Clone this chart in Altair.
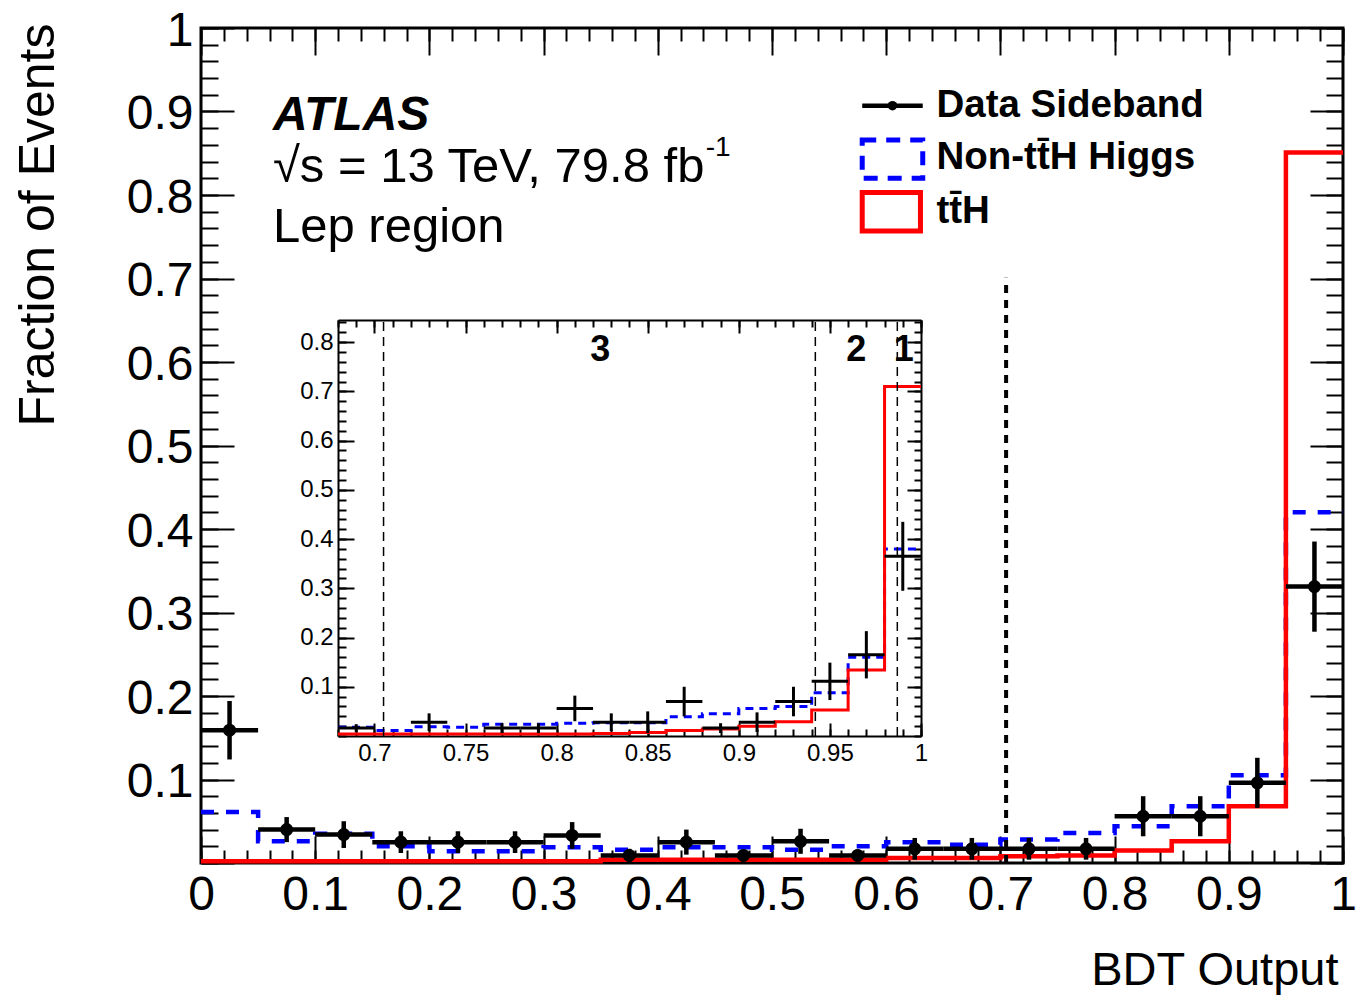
import altair as alt
import pandas as pd

W, H = 1142, 835
FONT = "Liberation Sans"

# ---------------- main histogram: BDT output, 20 bins ----------------
main_edges = [0.0, 0.05, 0.1, 0.15, 0.2, 0.25, 0.3, 0.35, 0.4, 0.45, 0.5,
              0.55, 0.6, 0.65, 0.7, 0.75, 0.8, 0.85, 0.9, 0.95, 1.0]
main_nontth = [0.061, 0.026, 0.035, 0.020, 0.014, 0.014, 0.019, 0.016, 0.019, 0.019,
               0.016, 0.020, 0.025, 0.022, 0.028, 0.036, 0.044, 0.068, 0.105, 0.420]
main_tth = [0.002, 0.002, 0.002, 0.002, 0.002, 0.002, 0.002, 0.004, 0.004, 0.004,
            0.004, 0.004, 0.006, 0.006, 0.008, 0.009, 0.015, 0.026, 0.068, 0.851]
main_data = [0.159, 0.040, 0.034, 0.025, 0.025, 0.025, 0.033, 0.009, 0.025, 0.009,
             0.026, 0.009, 0.017, 0.017, 0.017, 0.017, 0.056, 0.056, 0.096, 0.331]
main_err = [0.035, 0.015, 0.016, 0.013, 0.013, 0.013, 0.016, 0.008, 0.015, 0.007,
            0.015, 0.007, 0.013, 0.013, 0.013, 0.013, 0.024, 0.024, 0.030, 0.054]
main_cut = [0.705]
main_cut_top = [0.701]

# ---------------- inset: zoom on 0.68-1.0, 16 bins ----------------
inset_edges = [0.68, 0.70, 0.72, 0.74, 0.76, 0.78, 0.80, 0.82, 0.84,
               0.86, 0.88, 0.90, 0.92, 0.94, 0.96, 0.98, 1.00]
inset_nontth = [0.018, 0.011, 0.019, 0.018, 0.024, 0.024, 0.026, 0.027,
                0.027, 0.039, 0.045, 0.056, 0.060, 0.088, 0.160, 0.380]
inset_tth = [0.004, 0.004, 0.004, 0.004, 0.004, 0.004, 0.004, 0.005,
             0.007, 0.011, 0.014, 0.020, 0.029, 0.053, 0.134, 0.710]
inset_data_x = [0.69, 0.73, 0.77, 0.79, 0.81, 0.83, 0.85, 0.87, 0.89, 0.91,
                0.93, 0.95, 0.97, 0.99]
inset_data = [0.016, 0.028, 0.016, 0.016, 0.056, 0.028, 0.028, 0.070, 0.016,
              0.028, 0.070, 0.111, 0.165, 0.365]
inset_err = [0.008, 0.018, 0.010, 0.010, 0.026, 0.018, 0.022, 0.030, 0.010,
             0.020, 0.030, 0.038, 0.048, 0.070]
inset_halfbin = 0.01
inset_cuts = [0.705, 0.942, 0.987]
inset_cat_x = [0.824, 0.9645, 0.9905]
inset_cat_labels = ["3", "2", "1"]
inset_cat_y = 0.762

# ---------------- tick values ----------------
main_major = [round(i * 0.1, 1) for i in range(11)]
main_minor = [round(i * 0.02, 2) for i in range(51)]
main_ylabels = [round(i * 0.1, 1) for i in range(1, 11)]
inset_x_major = [0.7, 0.75, 0.8, 0.85, 0.9, 0.95, 1.0]
inset_x_minor = [round(0.68 + 0.01 * i, 2) for i in range(33)]
inset_y_major = [0.1, 0.2, 0.3, 0.4, 0.5, 0.6, 0.7, 0.8]
inset_y_minor = [round(0.02 * i, 2) for i in range(43)]


def xs_main():
    return alt.Scale(domain=[0.0, 1.0], range=[0, W], nice=False, zero=False)


def ys_main():
    return alt.Scale(domain=[0.0, 1.0], range=[H, 0], nice=False, zero=False)


IX0, IX1, IY0, IY1 = 137, 720, 708, 292


def xs_in():
    return alt.Scale(domain=[0.68, 1.0], range=[IX0, IX1], nice=False, zero=False)


def ys_in():
    return alt.Scale(domain=[0.0, 0.845], range=[IY0, IY1], nice=False, zero=False)


def step_df(edges, vals):
    return pd.DataFrame({"x": edges, "y": list(vals) + [vals[-1]]})


def step_line(edges, vals, xs, ys, color, width, dash=None):
    kw = dict(interpolate="step-after", color=color, strokeWidth=width)
    if dash:
        kw["strokeDash"] = dash
    return alt.Chart(step_df(edges, vals)).mark_line(**kw).encode(
        x=alt.X("x:Q", scale=xs, axis=None),
        y=alt.Y("y:Q", scale=ys, axis=None),
    )


def data_layers(lo, hi, c, y, e, xs, ys, width, marker):
    df = pd.DataFrame({
        "lo": lo, "hi": hi, "c": c, "y": y,
        "ylo": [a - b for a, b in zip(y, e)],
        "yhi": [a + b for a, b in zip(y, e)],
    })
    base = alt.Chart(df)
    h = base.mark_rule(color="black", strokeWidth=width).encode(
        x=alt.X("lo:Q", scale=xs, axis=None), x2="hi:Q",
        y=alt.Y("y:Q", scale=ys, axis=None))
    v = base.mark_rule(color="black", strokeWidth=width).encode(
        x=alt.X("c:Q", scale=xs, axis=None),
        y=alt.Y("ylo:Q", scale=ys, axis=None), y2="yhi:Q")
    out = [h, v]
    if marker:
        p = base.mark_point(filled=True, shape="circle", size=170, color="black",
                            opacity=1).encode(
            x=alt.X("c:Q", scale=xs, axis=None),
            y=alt.Y("y:Q", scale=ys, axis=None))
        out.append(p)
    return out


def text_layer(x, y, txt, xs, ys, size, weight="normal", style="normal", align="left"):
    df = pd.DataFrame({"x": [x], "y": [y], "t": [txt]})
    return alt.Chart(df).mark_text(
        font=FONT, fontSize=size, fontWeight=weight, fontStyle=style,
        align=align, baseline="alphabetic", color="black").encode(
        x=alt.X("x:Q", scale=xs, axis=None),
        y=alt.Y("y:Q", scale=ys, axis=None),
        text="t:N")


def tick_axis(orient, offset, values, size, domain=False):
    return alt.Axis(orient=orient, offset=offset, values=values, tickSize=size,
                    ticks=True, labels=False, grid=False, domain=domain,
                    domainColor="black", domainWidth=2, tickColor="black",
                    tickWidth=2, title=None)


def axis_layer(xs, ys, xaxis, yaxis, xv, yv):
    df = pd.DataFrame({"x": [xv], "y": [yv]})
    return alt.Chart(df).mark_point(opacity=0).encode(
        x=alt.X("x:Q", scale=xs, axis=xaxis),
        y=alt.Y("y:Q", scale=ys, axis=yaxis))


layers = []

# ---- main axes ----
main_x_lab = alt.Axis(orient="bottom", values=main_major, format=".1~f",
                      labelFontSize=48, labelPadding=8, labelFlush=False,
                      labelOverlap=False, ticks=False, tickSize=0, domain=False,
                      grid=False, title="BDT Output", titleFontSize=47,
                      titleFontWeight="normal", titleAnchor="end", titleAlign="right",
                      titleBaseline="alphabetic", titleX=W - 5, titleY=121)
main_y_lab = alt.Axis(orient="left", values=main_ylabels, format=".1~f",
                      labelFontSize=48, labelPadding=8, labelFlush=False,
                      labelOverlap=False, labelOffset=3, ticks=False, tickSize=0,
                      domain=False, grid=False, title="Fraction of Events",
                      titleFontSize=50, titleFontWeight="normal", titleAngle=270,
                      titleAlign="right", titleBaseline="alphabetic",
                      titleX=-148, titleY=-5)
layers.append(axis_layer(xs_main(), ys_main(), main_x_lab, main_y_lab, 0.5, 0.5))
layers.append(axis_layer(xs_main(), ys_main(), tick_axis("top", -H, main_major, 27),
                         tick_axis("right", -W, main_major, 33), 0.5, 0.5))
layers.append(axis_layer(xs_main(), ys_main(), tick_axis("top", -H, main_minor, 13),
                         tick_axis("right", -W, main_minor, 17), 0.5, 0.5))
layers.append(axis_layer(xs_main(), ys_main(), tick_axis("bottom", -H, main_major, 27),
                         tick_axis("left", -W, main_major, 33), 0.5, 0.5))
layers.append(axis_layer(xs_main(), ys_main(), tick_axis("bottom", -H, main_minor, 13),
                         tick_axis("left", -W, main_minor, 17), 0.5, 0.5))

# ---- main histograms ----
layers.append(step_line(main_edges, main_nontth, xs_main(), ys_main(), "#0000ff", 4.5, [13, 12]))
layers.append(step_line(main_edges, main_tth, xs_main(), ys_main(), "#ff0000", 4.5))
mlo, mhi = main_edges[:-1], main_edges[1:]
mc = [(a + b) / 2 for a, b in zip(mlo, mhi)]
layers += data_layers(mlo, mhi, mc, main_data, main_err, xs_main(), ys_main(), 4.5, True)

cut_df = pd.DataFrame({"x": main_cut, "y0": [0.0], "y1": main_cut_top})
layers.append(alt.Chart(cut_df).mark_rule(color="black", strokeWidth=4, strokeDash=[8, 7]).encode(
    x=alt.X("x:Q", scale=xs_main(), axis=None),
    y=alt.Y("y0:Q", scale=ys_main(), axis=None), y2="y1:Q"))

# ---- annotations ----
layers.append(text_layer(0.063, 0.878, "ATLAS", xs_main(), ys_main(), 48, "bold", "italic"))
layers.append(text_layer(0.063, 0.816, "\u221as = 13 TeV, 79.8 fb", xs_main(), ys_main(), 49))
layers.append(text_layer(0.442, 0.847, "-1", xs_main(), ys_main(), 28))
layers.append(text_layer(0.063, 0.744, "Lep region", xs_main(), ys_main(), 49))

# ---- legend ----
leg_line = pd.DataFrame({"x0": [0.579], "x1": [0.632], "y": [0.907], "xc": [0.6055]})
layers.append(alt.Chart(leg_line).mark_rule(color="black", strokeWidth=4.5).encode(
    x=alt.X("x0:Q", scale=xs_main(), axis=None), x2="x1:Q",
    y=alt.Y("y:Q", scale=ys_main(), axis=None)))
layers.append(alt.Chart(leg_line).mark_point(filled=True, shape="circle", size=90,
                                             color="black", opacity=1).encode(
    x=alt.X("xc:Q", scale=xs_main(), axis=None),
    y=alt.Y("y:Q", scale=ys_main(), axis=None)))
leg_box_blue = pd.DataFrame({"x0": [0.579], "x1": [0.632], "y0": [0.820], "y1": [0.866]})
leg_box_red = pd.DataFrame({"x0": [0.579], "x1": [0.630], "y0": [0.757], "y1": [0.803]})
layers.append(alt.Chart(leg_box_blue).mark_rect(fillOpacity=0, stroke="#0000ff", strokeWidth=5,
                                                strokeDash=[14, 10]).encode(
    x=alt.X("x0:Q", scale=xs_main(), axis=None), x2="x1:Q",
    y=alt.Y("y0:Q", scale=ys_main(), axis=None), y2="y1:Q"))
layers.append(alt.Chart(leg_box_red).mark_rect(fillOpacity=0, stroke="#ff0000", strokeWidth=5).encode(
    x=alt.X("x0:Q", scale=xs_main(), axis=None), x2="x1:Q",
    y=alt.Y("y0:Q", scale=ys_main(), axis=None), y2="y1:Q"))
layers.append(text_layer(0.644, 0.894, "Data Sideband", xs_main(), ys_main(), 38.5, "bold"))
layers.append(text_layer(0.644, 0.831, "Non-tt\u0304H Higgs", xs_main(), ys_main(), 38.5, "bold"))
layers.append(text_layer(0.644, 0.767, "tt\u0304H", xs_main(), ys_main(), 38.5, "bold"))

# ---- inset axes ----
in_x_lab = alt.Axis(orient="bottom", offset=IY0 - H, values=inset_x_major, format=".2~f",
                    labelFontSize=24, labelPadding=5, labelFlush=False, labelOverlap=False,
                    ticks=False, tickSize=0, domain=True, domainColor="black",
                    domainWidth=2, grid=False, title=None)
in_y_lab = alt.Axis(orient="left", offset=-IX0, values=inset_y_major, format=".1f",
                    labelFontSize=24, labelPadding=5, labelFlush=False, labelOverlap=False,
                    ticks=False, tickSize=0, domain=True, domainColor="black",
                    domainWidth=2, grid=False, title=None)
layers.append(axis_layer(xs_in(), ys_in(), in_x_lab, in_y_lab, 0.8, 0.4))
layers.append(axis_layer(xs_in(), ys_in(), tick_axis("top", -IY0, inset_x_major, 13),
                         tick_axis("right", IX0 - W, inset_y_major, 16), 0.8, 0.4))
layers.append(axis_layer(xs_in(), ys_in(), tick_axis("top", -IY0, inset_x_minor, 7),
                         tick_axis("right", IX0 - W, inset_y_minor, 8), 0.8, 0.4))
layers.append(axis_layer(xs_in(), ys_in(), tick_axis("bottom", IY1 - H, inset_x_major, 13, True),
                         tick_axis("left", -IX1, inset_y_major, 14, True), 0.8, 0.4))
layers.append(axis_layer(xs_in(), ys_in(), tick_axis("bottom", IY1 - H, inset_x_minor, 7),
                         tick_axis("left", -IX1, inset_y_minor, 7), 0.8, 0.4))

# ---- inset histograms ----
layers.append(step_line(inset_edges, inset_nontth, xs_in(), ys_in(), "#0000ff", 3, [8, 6]))
layers.append(step_line(inset_edges, inset_tth, xs_in(), ys_in(), "#ff0000", 3))
ilo = [round(c - inset_halfbin, 3) for c in inset_data_x]
ihi = [round(c + inset_halfbin, 3) for c in inset_data_x]
layers += data_layers(ilo, ihi, inset_data_x, inset_data, inset_err, xs_in(), ys_in(), 3, False)

icut = pd.DataFrame({"x": inset_cuts, "y0": [0.0] * 3, "y1": [0.845] * 3})
layers.append(alt.Chart(icut).mark_rule(color="black", strokeWidth=1.5, strokeDash=[9, 6]).encode(
    x=alt.X("x:Q", scale=xs_in(), axis=None),
    y=alt.Y("y0:Q", scale=ys_in(), axis=None), y2="y1:Q"))
icat = pd.DataFrame({"x": inset_cat_x, "y": [inset_cat_y] * 3, "t": inset_cat_labels})
layers.append(alt.Chart(icat).mark_text(font=FONT, fontSize=36, fontWeight="bold",
                                        align="center", baseline="alphabetic",
                                        color="black").encode(
    x=alt.X("x:Q", scale=xs_in(), axis=None),
    y=alt.Y("y:Q", scale=ys_in(), axis=None), text="t:N"))

chart = alt.layer(*layers).resolve_scale(x="independent", y="independent").resolve_axis(
    x="independent", y="independent").properties(
    width=W, height=H,
    autosize=alt.AutoSizeParams(type="none"),
    padding={"left": 193, "top": 20, "right": 21, "bottom": 136},
    background="white",
).configure_view(stroke="black", strokeWidth=3).configure_axis(
    labelFont=FONT, titleFont=FONT, labelColor="black", titleColor="black")

chart.save("out.html", embed_options={"renderer": "svg", "actions": False})
